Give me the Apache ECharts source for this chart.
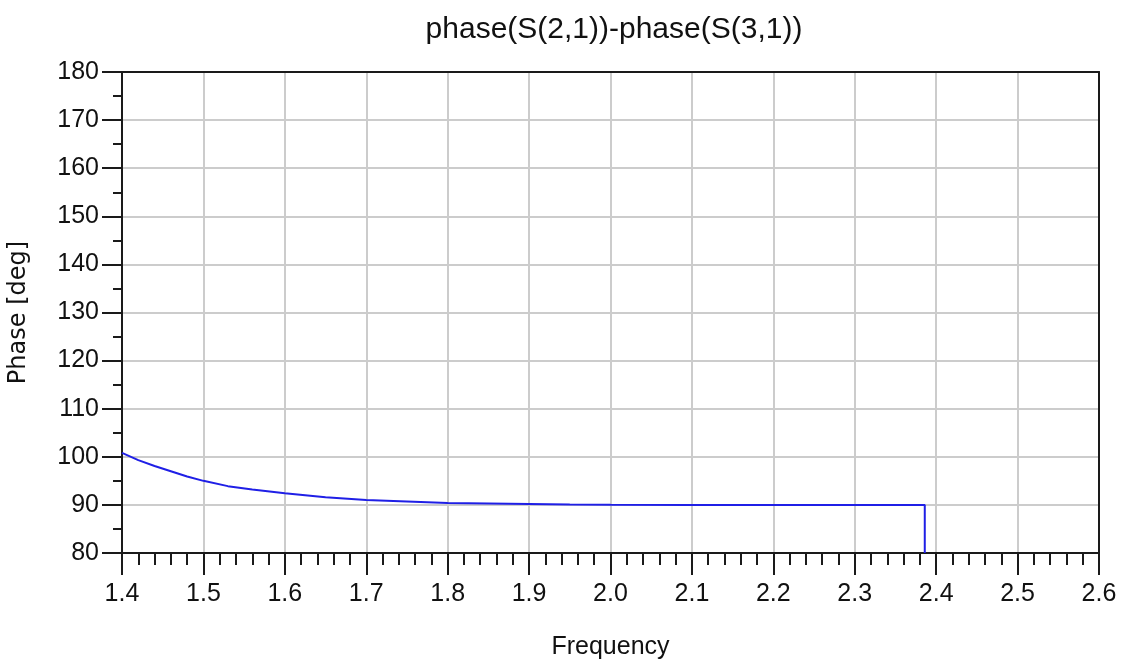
<!DOCTYPE html>
<html>
<head>
<meta charset="utf-8">
<script src="https://cdn.jsdelivr.net/npm/echarts@6/dist/echarts.min.js"></script>
<style>
  html, body { margin: 0; padding: 0; background: #fff; }
  #chart { width: 1128px; height: 664px; }
</style>
</head>
<body>
<div id="chart"></div>
<script>
// Frequency sweep points and phase difference (deg)
const frequency = [1.40, 1.42, 1.44, 1.46, 1.48, 1.50, 1.53, 1.56, 1.60, 1.65, 1.70, 1.75, 1.80, 1.85, 1.90, 1.95, 2.00, 2.10, 2.20, 2.30, 2.386, 2.386];
const phaseDiff = [100.8, 99.3, 98.1, 97.0, 95.9, 95.0, 93.9, 93.2, 92.4, 91.6, 91.0, 90.7, 90.4, 90.3, 90.2, 90.1, 90.05, 90.0, 90.0, 90.0, 90.0, 80.0];

const titleText = 'phase(S(2,1))-phase(S(3,1))';
const xName = 'Frequency';
const yName = 'Phase [deg]';

const FONT = '"Liberation Sans", Arial, sans-serif';
const FRAME = '#1a1a1a';

const chart = echarts.init(document.getElementById('chart'), null, { renderer: 'canvas' });

// Plain axes on the top and right edges close the frame above the grid lines
const frameAxis = {
  type: 'value',
  axisLine: { show: true, onZero: false, lineStyle: { color: FRAME, width: 2 } },
  axisTick: { show: false },
  axisLabel: { show: false },
  splitLine: { show: false }
};

chart.setOption({
  backgroundColor: '#ffffff',
  animation: false,
  title: {
    text: titleText,
    left: 609,
    textAlign: 'center',
    top: 10,
    textStyle: { fontFamily: FONT, fontSize: 30, fontWeight: 'normal', color: '#111' }
  },
  grid: { left: 122, right: 29, top: 72, bottom: 111, outerBoundsMode: 'none', containLabel: false },
  xAxis: [{
    type: 'value',
    min: 1.4, max: 2.6, interval: 0.1,
    name: xName,
    nameLocation: 'middle',
    nameGap: 82,
    nameTextStyle: { fontFamily: FONT, fontSize: 25, color: '#111' },
    axisLine: { show: true, onZero: false, lineStyle: { color: FRAME, width: 2 } },
    axisTick: { show: true, inside: false, length: 22, lineStyle: { color: FRAME, width: 2 } },
    minorTick: { show: true, splitNumber: 5, length: 12, lineStyle: { color: FRAME, width: 2 } },
    axisLabel: {
      margin: 29, fontFamily: FONT, fontSize: 25, color: '#111',
      formatter: v => v.toFixed(1)
    },
    splitLine: { show: true, lineStyle: { color: '#cccccc', width: 2 } }
  }, Object.assign({ position: 'top', min: 1.4, max: 2.6 }, frameAxis)],
  yAxis: [{
    type: 'value',
    min: 80, max: 180, interval: 10,
    name: yName,
    nameLocation: 'middle',
    nameGap: 91,
    nameRotate: 90,
    nameTextStyle: { fontFamily: '"DejaVu Sans", sans-serif', fontSize: 24, color: '#111' },
    axisLine: { show: true, onZero: false, lineStyle: { color: FRAME, width: 2 } },
    axisTick: { show: true, inside: false, length: 20, lineStyle: { color: FRAME, width: 2 } },
    minorTick: { show: true, splitNumber: 2, length: 9, lineStyle: { color: FRAME, width: 2 } },
    axisLabel: { margin: 23, fontFamily: FONT, fontSize: 25, color: '#111' },
    splitLine: { show: true, lineStyle: { color: '#cccccc', width: 2 } }
  }, Object.assign({ position: 'right', min: 80, max: 180 }, frameAxis)],
  series: [{
    type: 'line',
    data: frequency.map((f, i) => [f, phaseDiff[i]]),
    showSymbol: false,
    smooth: false,
    clip: true,
    lineStyle: { color: '#1f1fe6', width: 2 }
  }]
});
</script>
</body>
</html>
